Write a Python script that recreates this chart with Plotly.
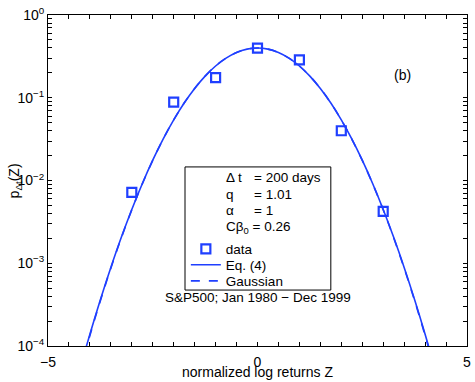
import plotly.graph_objects as go

# data points (normalized log returns, S&P500, dt = 200 days)
z_data = [-3, -2, -1, 0, 1, 2, 3]
p_data = [0.0072, 0.0885, 0.175, 0.397, 0.287, 0.0399, 0.00424]

# curves
z_curve = [-4.25, -4.0, -3.75, -3.5, -3.25, -3.0, -2.75, -2.5, -2.25, -2.0, -1.75, -1.5,
           -1.25, -1.0, -0.75, -0.5, -0.25, 0.0, 0.25, 0.5, 0.75, 1.0, 1.25, 1.5, 1.75,
           2.0, 2.25, 2.5, 2.75, 3.0, 3.25, 3.5, 3.75, 4.0, 4.25]
p_eq4 = [0.0000500, 0.000139, 0.000363, 0.000890, 0.00206, 0.00447, 0.00915, 0.0176,
         0.0318, 0.0540, 0.0863, 0.1295, 0.1826, 0.2420, 0.3011, 0.3521, 0.3867, 0.3989,
         0.3867, 0.3521, 0.3011, 0.2420, 0.1826, 0.1295, 0.0863, 0.0540, 0.0318, 0.0176,
         0.00915, 0.00447, 0.00206, 0.000890, 0.000363, 0.000139, 0.0000500]
p_gauss = [0.0000477, 0.000134, 0.000353, 0.000873, 0.00203, 0.00443, 0.00909, 0.0175,
           0.0317, 0.0540, 0.0863, 0.1295, 0.1826, 0.2420, 0.3011, 0.3521, 0.3867, 0.3989,
           0.3867, 0.3521, 0.3011, 0.2420, 0.1826, 0.1295, 0.0863, 0.0540, 0.0317, 0.0175,
           0.00909, 0.00443, 0.00203, 0.000873, 0.000353, 0.000134, 0.0000477]

x_ticks = [v * 0.5 for v in range(-10, 11)]
x_labels = {-5: '\u22125', 0: '0', 5: '5'}
decades = [-4, -3, -2, -1, 0]

BLUE = '#1f3fff'
FONT = 'Liberation Sans, Arial, sans-serif'

fig = go.Figure()
fig.add_trace(go.Scatter(x=z_data, y=p_data, mode='markers', name='data', legend='legend',
                         marker=dict(symbol='square-open', size=9, color=BLUE,
                                     line=dict(width=2.2, color=BLUE))))
fig.add_trace(go.Scatter(x=z_curve, y=p_eq4, mode='lines', name='Eq. (4)', legend='legend2',
                         line=dict(color=BLUE, width=1.6, shape='spline')))
fig.add_trace(go.Scatter(x=z_curve, y=p_gauss, mode='lines', name='Gaussian', legend='legend3',
                         line=dict(color=BLUE, width=1.6, dash='dash', shape='spline')))

y_ticks, y_text = [], []
for d in decades:
    y_ticks.append(10 ** d)
    y_text.append('10<sup>%s</sup>' % (str(d).replace('-', '\u2212')))
    if d < 0:
        for m in range(2, 10):
            y_ticks.append(m * 10 ** d)
            y_text.append('')

axis_style = dict(showline=True, linecolor='black', linewidth=1, mirror='ticks',
                  ticks='inside', ticklen=4, tickcolor='black', showgrid=False,
                  zeroline=False, automargin=False, tickfont=dict(size=14, color='black'))

fig.update_xaxes(range=[-5, 5], tickmode='array', tickvals=x_ticks, ticklabelstandoff=3,
                 ticktext=[x_labels.get(t, '') for t in x_ticks], **axis_style)
fig.update_yaxes(type='log', range=[-4, 0], tickmode='array', tickvals=y_ticks,
                 ticktext=y_text, **axis_style)

# parameter box + text
fig.add_shape(type='rect', xref='paper', yref='paper', x0=0.327, x1=0.675, y0=0.169, y1=0.541,
              line=dict(color='black', width=1), fillcolor='rgba(0,0,0,0)')
params = [('\u0394 t', '= 200 days'), ('q', '= 1.01'), ('\u03b1', '= 1')]
row_y = [0.508, 0.457, 0.408]
for (lab, val), yy in zip(params, row_y):
    fig.add_annotation(x=0.420, y=yy, xref='paper', yref='paper', text=lab, showarrow=False,
                       xanchor='left', yanchor='middle', font=dict(size=13.5))
    fig.add_annotation(x=0.487, y=yy, xref='paper', yref='paper', text=val, showarrow=False,
                       xanchor='left', yanchor='middle', font=dict(size=13.5))
fig.add_annotation(x=0.420, y=0.358, xref='paper', yref='paper', text='C\u03b2<sub>0</sub> = 0.26',
                   showarrow=False, xanchor='left', yanchor='middle', font=dict(size=13.5))

fig.add_annotation(x=0.5, y=0.148, xref='paper', yref='paper', text='S&P500; Jan 1980 \u2212 Dec 1999',
                   showarrow=False, xanchor='center', yanchor='middle', font=dict(size=13.5))
fig.add_annotation(x=0.845, y=0.819, xref='paper', yref='paper', text='(b)',
                   showarrow=False, xanchor='center', yanchor='middle', font=dict(size=14))
fig.add_annotation(x=0.5, y=-0.079, xref='paper', yref='paper', text='normalized log returns Z',
                   showarrow=False, xanchor='center', yanchor='middle', font=dict(size=14))
fig.add_annotation(x=-0.079, y=0.5, xref='paper', yref='paper', text='p<sub>\u0394t</sub>(Z)',
                   showarrow=False, xanchor='center', yanchor='middle', textangle=-90,
                   font=dict(size=14))

leg = dict(x=0.329, xanchor='left', yanchor='middle', bgcolor='rgba(0,0,0,0)',
           borderwidth=0, font=dict(size=13.5))
fig.update_layout(
    width=475, height=382,
    margin=dict(l=48, r=8, t=15, b=36),
    paper_bgcolor='white', plot_bgcolor='white',
    font=dict(family=FONT, color='black'),
    showlegend=True,
    legend=dict(y=0.293, **leg),
    legend2=dict(y=0.245, **leg),
    legend3=dict(y=0.196, **leg),
)

# drop the default 8px body margin so the figure sits at the page corner
fig.write_html('out.html', config={'displayModeBar': False},
               post_script="document.body.style.margin = '0';")
